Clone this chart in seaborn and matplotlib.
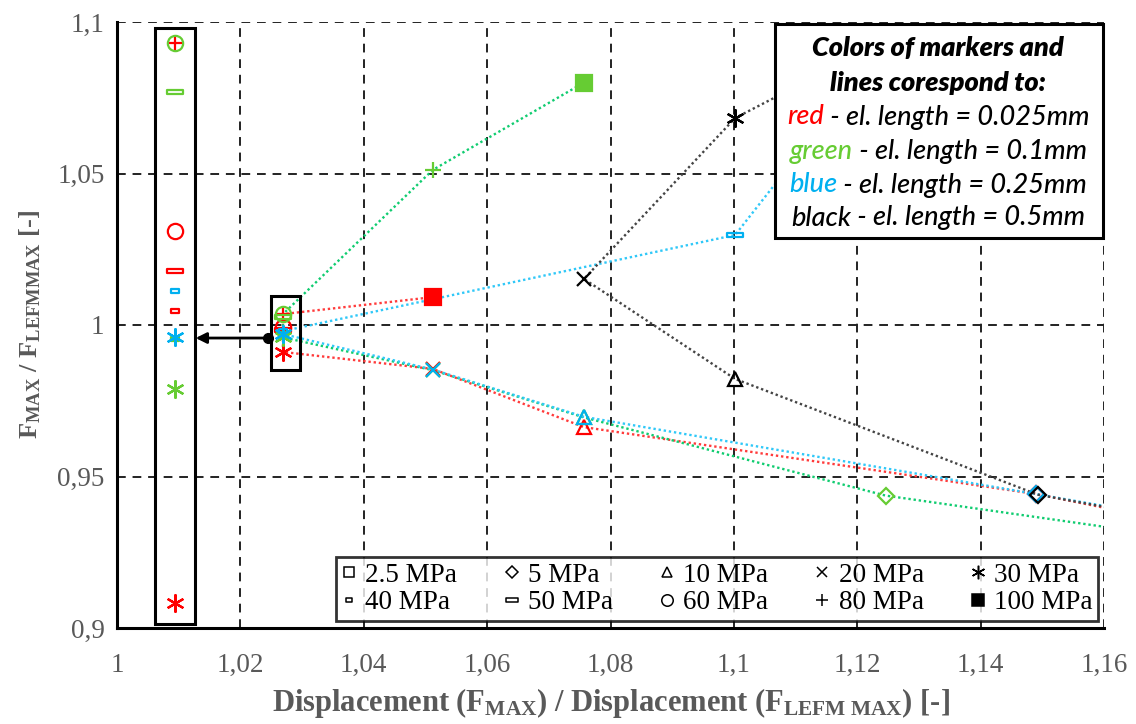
import numpy as np
import pandas as pd
import matplotlib
matplotlib.use("Agg")
import matplotlib.pyplot as plt
import seaborn as sns
from matplotlib.path import Path
from matplotlib.lines import Line2D
from matplotlib.patches import Rectangle
from matplotlib.offsetbox import TextArea, HPacker, AnchoredOffsetbox

# ---------------- data ----------------
stress_labels = ['2.5 MPa', '5 MPa', '10 MPa', '20 MPa', '30 MPa',
                 '40 MPa', '50 MPa', '60 MPa', '80 MPa', '100 MPa']

red_x = [1.1735, 1.1490, 1.0757, 1.0512, 1.0269, 1.0269, 1.0269, 1.0269, 1.0269, 1.0512]
red_y = [0.9342, 0.9442, 0.9663, 0.9855, 0.9911, 0.9976, 0.9985, 0.9994, 1.0036, 1.0092]

green_x = [1.1735, 1.1246, 1.0757, 1.0512, 1.0269, 1.0269, 1.0269, 1.0269, 1.0512, 1.0757]
green_y = [0.9295, 0.9437, 0.9695, 0.9851, 0.9959, 0.9969, 1.0027, 1.0036, 1.0512, 1.0800]

blue_x = [1.1735, 1.1490, 1.0757, 1.0512, 1.0269, 1.0269, 1.1002, 1.1246, np.nan, np.nan]
blue_y = [0.9355, 0.9442, 0.9697, 0.9853, 0.9970, 0.9980, 1.0297, 1.0930, np.nan, np.nan]

black_x = [1.1735, 1.1493, 1.1002, 1.0757, 1.1002, 1.1246, np.nan, np.nan, np.nan, np.nan]
black_y = [0.9350, 0.9440, 0.9822, 1.0152, 1.0683, 1.0940, np.nan, np.nan, np.nan, np.nan]

# magnified view of the cluster at x ~ 1.027 (drawn in the tall box on the left)
inset_x = 1.0094
inset_red_y = [np.nan, np.nan, np.nan, np.nan, 0.9083, 1.0046, 1.0178, 1.0310, 1.0930, np.nan]
inset_green_y = [np.nan, np.nan, np.nan, np.nan, 0.9789, 0.9955, 1.0770, 1.0930, np.nan, np.nan]
inset_blue_y = [np.nan, np.nan, np.nan, np.nan, 0.9960, 1.0112, np.nan, np.nan, np.nan, np.nan]

x_ticks = [1.00, 1.02, 1.04, 1.06, 1.08, 1.10, 1.12, 1.14, 1.16]
x_tick_labels = ['1', '1,02', '1,04', '1,06', '1,08', '1,1', '1,12', '1,14', '1,16']
y_ticks = [0.90, 0.95, 1.00, 1.05, 1.10]
y_tick_labels = ['0,9', '0,95', '1', '1,05', '1,1']

series_names = ['red', 'green', 'blue', 'black']
info_lines = [('red', ' - el. length = 0.025mm'),
              ('green', ' - el. length = 0.1mm'),
              ('blue', ' - el. length = 0.25mm'),
              ('black', ' - el. length = 0.5mm')]

# ---------------- styles ----------------
line_colors = {'red': '#FF3B3B', 'green': '#10CC70', 'blue': '#30C8F8', 'black': '#444444'}
mark_colors = {'red': '#FF0000', 'green': '#66CC33', 'blue': '#00B0F0', 'black': '#000000'}

dash40 = Path([(-1, -0.5), (1, -0.5), (1, 0.5), (-1, 0.5), (-1, -0.5)],
              [Path.MOVETO, Path.LINETO, Path.LINETO, Path.LINETO, Path.CLOSEPOLY])
dash50 = Path([(-1, -0.28), (1, -0.28), (1, 0.28), (-1, 0.28), (-1, -0.28)],
              [Path.MOVETO, Path.LINETO, Path.LINETO, Path.LINETO, Path.CLOSEPOLY])
# marker, size, filled
mstyles = [('s', 10, False), ('D', 8, False), ('^', 10, False), ('x', 10, False),
           ((6, 2, 0), 13, False), (dash40, 6, False), (dash50, 11, False),
           ('o', 11, False), ('+', 11, False), ('s', 11, True)]

sns.set_theme(style='white')
plt.rcParams['font.family'] = ['Liberation Serif', 'DejaVu Serif']
plt.rcParams['mathtext.fontset'] = 'custom'
plt.rcParams['mathtext.rm'] = 'Liberation Serif'
plt.rcParams['mathtext.bf'] = 'Liberation Serif:bold'
plt.rcParams['mathtext.it'] = 'Liberation Serif:italic'

fig = plt.figure(figsize=(11.36, 7.24), dpi=100)
ax = fig.add_axes([117 / 1136, 96 / 724, 987 / 1136, 606 / 724])

data = {'red': (red_x, red_y), 'green': (green_x, green_y),
        'blue': (blue_x, blue_y), 'black': (black_x, black_y)}

# dotted connecting lines
for name in series_names:
    xs, ys = data[name]
    df = pd.DataFrame({'x': xs, 'y': ys, 'order': range(len(xs))}).dropna()
    sns.lineplot(data=df, x='x', y='y', sort=False, estimator=None, ax=ax,
                 color=line_colors[name], linewidth=1.7, linestyle=(0, (1, 1.2)),
                 zorder=3)

def draw_marker(x, y, i, color, z):
    m, s, filled = mstyles[i]
    ax.plot([x], [y], linestyle='none', marker=m, markersize=s,
            markeredgecolor=color, markerfacecolor=color if filled else 'none',
            color=color, markeredgewidth=1.6, zorder=z)

zord = {'red': 4, 'green': 4.1, 'blue': 4.2, 'black': 4.5}
for name in series_names:
    xs, ys = data[name]
    for i, (x, y) in enumerate(zip(xs, ys)):
        if np.isnan(x):
            continue
        draw_marker(x, y, i, mark_colors[name], zord[name])

for name, arr in [('red', inset_red_y), ('green', inset_green_y), ('blue', inset_blue_y)]:
    for i, y in enumerate(arr):
        if np.isnan(y):
            continue
        draw_marker(inset_x, y, i, mark_colors[name], zord[name])

# boxes and arrow
ax.add_patch(Rectangle((1.00615, 0.9013), 0.0065, 0.1967, fill=False,
                       edgecolor='black', linewidth=2.2, zorder=6))
ax.add_patch(Rectangle((1.02496, 0.9851), 0.0047, 0.0245, fill=False,
                       edgecolor='black', linewidth=2.2, zorder=6))
ax.annotate('', xy=(1.01275, 0.9957), xytext=(1.0245, 0.9957),
            arrowprops=dict(arrowstyle='-|>', color='black', lw=2, mutation_scale=16,
                            shrinkA=0, shrinkB=0), zorder=6)
ax.plot([1.0245], [0.9957], 'o', color='black', markersize=7, zorder=7)

# axes styling
ax.set_xlim(1.0, 1.16)
ax.set_ylim(0.9, 1.1)
ax.set_xticks(x_ticks)
ax.set_xticklabels(x_tick_labels)
ax.set_yticks(y_ticks)
ax.set_yticklabels(y_tick_labels)
ax.grid(True, color='#222222', linestyle=(0, (4.5, 3.5)), linewidth=1.4, zorder=1)
ax.set_axisbelow(True)
for sp in ['top', 'right']:
    ax.spines[sp].set_visible(False)
for sp in ['left', 'bottom']:
    ax.spines[sp].set_color('black')
    ax.spines[sp].set_linewidth(2.2)
    ax.spines[sp].set_zorder(8)
ax.tick_params(axis='both', direction='inout', length=10, width=1.6, color='black',
               labelsize=19.5, labelcolor='#595959')
ax.tick_params(axis='x', pad=13)
ax.tick_params(axis='y', pad=4)

ax.set_xlabel('Displacement (F$_{\\mathbf{MAX}}$) / Displacement (F$_{\\mathbf{LEFM\\ MAX}}$) [-]',
              fontsize=22, fontweight='bold', color='#595959', labelpad=6)
ax.set_ylabel('F$_{\\mathbf{MAX}}$ / F$_{\\mathbf{LEFMMAX}}$ [-]',
              fontsize=19, fontweight='bold', color='#595959', labelpad=10)

# legend
handles = []
for i, lab in enumerate(stress_labels):
    m, s, filled = mstyles[i]
    handles.append(Line2D([], [], linestyle='none', marker=m, markersize=s * 0.75,
                          markeredgecolor='black', markerfacecolor='black' if filled else 'none',
                          color='black', markeredgewidth=1.1, label=lab))
order = [0, 5, 1, 6, 2, 7, 3, 8, 4, 9]
leg = ax.legend([handles[k] for k in order], [stress_labels[k] for k in order],
                ncol=5, loc='lower right', bbox_to_anchor=(0.994, 0.012),
                fontsize=19.5, frameon=True, fancybox=False, handlelength=0.6,
                handletextpad=0.3, columnspacing=1.7, labelspacing=0.1,
                borderpad=0.2, borderaxespad=0)
leg.get_frame().set_edgecolor('black')
leg.get_frame().set_linewidth(2)
leg.set_zorder(10)
for t in leg.get_texts():
    t.set_color('black')

# info box
def fx(px):
    return (px - 117) / 987

def fy(py):
    return (628 - py) / 606

ax.add_patch(Rectangle((fx(775), fy(238)), fx(1103) - fx(775), fy(24) - fy(238),
                       transform=ax.transAxes, facecolor='white', edgecolor='black',
                       linewidth=2.2, zorder=11, clip_on=False))
tp = dict(family=['Lato', 'DejaVu Sans'], size=19.5, style='italic')
cx = fx(938)
title_lines = ['Colors of markers and', 'lines corespond to:']
rows_y = [48, 83, 117, 151, 185, 218]
for k, txt in enumerate(title_lines):
    ax.text(cx, fy(rows_y[k]), txt, transform=ax.transAxes, ha='center', va='center',
            fontweight='heavy', zorder=12, color='black', **tp)
for k, (word, rest) in enumerate(info_lines):
    pk = HPacker(children=[TextArea(word, textprops=dict(color=mark_colors[word], fontweight='medium', **tp)),
                           TextArea(rest, textprops=dict(color='black', fontweight='medium', **tp))],
                 align='baseline', pad=0, sep=0)
    ab = AnchoredOffsetbox(loc='center', child=pk, pad=0, borderpad=0, frameon=False,
                           bbox_to_anchor=(cx, fy(rows_y[k + 2])),
                           bbox_transform=ax.transAxes)
    ab.set_zorder(12)
    ax.add_artist(ab)

fig.savefig('out.png', dpi=100)
